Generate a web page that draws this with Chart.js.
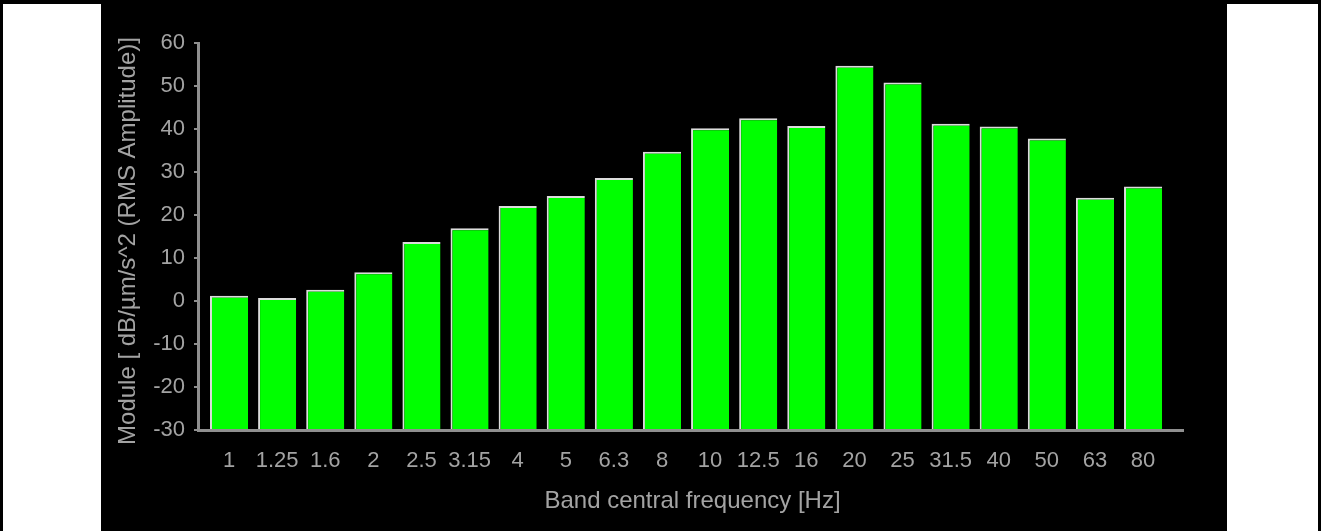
<!DOCTYPE html>
<html>
<head>
<meta charset="utf-8">
<script src="https://cdn.jsdelivr.net/npm/chart.js@4.4.1/dist/chart.umd.min.js"></script>
<style>
    html, body { margin: 0; padding: 0; background: #fff; overflow: hidden; }
    #frame {
        position: absolute; left: 0; top: 0; width: 1315px; height: 540px;
        border-left: 3px solid #000; border-top: 4px solid #000; border-right: 3px solid #000;
        background: #fff;
    }
    #panel { position: absolute; left: 98px; top: 0; width: 1126px; height: 540px; background: #000; }
    #chart { position: absolute; left: 0; top: 0; }
</style>
</head>
<body>
<div id="frame">
    <div id="panel"><canvas id="chart" width="1126" height="527"></canvas></div>
</div>
<script>
const BANDS = ['1', '1.25', '1.6', '2', '2.5', '3.15', '4', '5', '6.3', '8',
               '10', '12.5', '16', '20', '25', '31.5', '40', '50', '63', '80'];
const MODULE_DB = [1.2, 0.7, 2.6, 6.7, 13.7, 16.9, 22.1, 24.4, 28.6, 34.7,
                   40.2, 42.5, 40.7, 54.7, 50.8, 41.2, 40.6, 37.8, 24.0, 26.6];
const Y_TICK_MIN = -30;
const Y_TICK_MAX = 60;
const Y_TITLE = 'Module [ dB/µm/s^2 (RMS Amplitude)]';
const X_TITLE = 'Band central frequency [Hz]';

const TEXTO = '#a3a3a3';
const EIXO = '#8f8f8f';
const FONTE = "'Liberation Sans', Arial, sans-serif";

// titulos dos eixos desenhados a mao para ficar na mesma posicao da imagem
const titulos = {
    id: 'titulos',
    afterDraw(chart) {
        const { ctx, chartArea } = chart;
        ctx.save();
        ctx.fillStyle = TEXTO;
        ctx.font = '24px ' + FONTE;
        ctx.textAlign = 'center';
        ctx.textBaseline = 'middle';
        ctx.fillText(X_TITLE, (chartArea.left + chartArea.right) / 2 + 2, 497);
        ctx.translate(27, 237);
        ctx.rotate(-Math.PI / 2);
        ctx.fillText(Y_TITLE, 0, 0);
        ctx.restore();
    }
};

new Chart(document.getElementById('chart'), {
    type: 'bar',
    data: {
        datasets: [{
            data: MODULE_DB.map((v, i) => ({ x: i, y: v })),
            base: Y_TICK_MIN,
            backgroundColor: '#00ff00',
            borderColor: '#dcdcdc',
            borderWidth: { top: 2, left: 2, right: 0, bottom: 0 },
            borderSkipped: false,
            categoryPercentage: 0.8,
            barPercentage: 0.99
        }]
    },
    options: {
        responsive: false,
        animation: false,
        layout: { padding: { top: 39, right: 44, left: 0, bottom: 0 } },
        plugins: { legend: { display: false }, tooltip: { enabled: false } },
        scales: {
            x: {
                type: 'linear',
                offset: false,
                min: -0.645,
                max: 19.83,
                afterFit(s) { s.height = 101; },
                border: { color: EIXO, width: 3 },
                grid: { display: true, drawOnChartArea: false, drawTicks: false, color: 'transparent' },
                ticks: {
                    stepSize: 1,
                    includeBounds: false,
                    autoSkip: false,
                    maxRotation: 0,
                    padding: 18,
                    color: TEXTO,
                    font: { family: FONTE, size: 22 },
                    callback: (v) => Number.isInteger(v) ? BANDS[v] : ''
                }
            },
            y: {
                min: Y_TICK_MIN,
                max: Y_TICK_MAX,
                afterFit(s) { s.width = 97; },
                border: { color: EIXO, width: 3 },
                grid: { drawOnChartArea: false, drawTicks: true, tickLength: 4, color: EIXO, lineWidth: 2 },
                ticks: {
                    stepSize: 10,
                    padding: 9,
                    color: TEXTO,
                    font: { family: FONTE, size: 22 }
                }
            }
        }
    },
    plugins: [titulos]
});
</script>
</body>
</html>
